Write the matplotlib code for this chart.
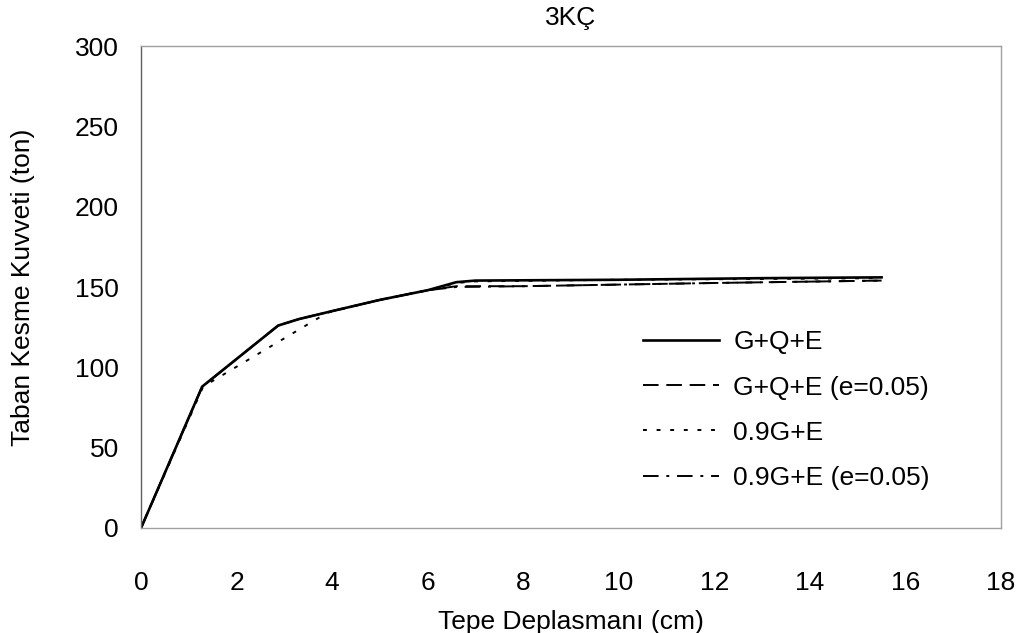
import numpy as np
import matplotlib.pyplot as plt

plt.rcParams['font.family'] = ['Liberation Sans', 'DejaVu Sans']

# tepe deplasmani (cm) / taban kesme kuvveti (ton)
x_gqe = [0, 1.28, 2.87, 3.3, 4.0, 5.0, 6.0, 6.6, 7.0, 10.0, 13.0, 15.5]
y_gqe = [0, 88, 126, 130, 135, 142, 148, 153, 154, 154.5, 155.5, 156]

x_gqe_e = [0, 1.28, 2.87, 3.3, 4.0, 5.0, 6.0, 6.6, 8.0, 10.0, 12.0, 15.5]
y_gqe_e = [0, 88, 126, 130, 135, 142, 148, 150.5, 150.5, 151.5, 152.5, 154]

x_09 = [0, 1.3, 3.9, 5.0, 6.0, 6.6, 7.0, 10.0, 13.0, 15.5]
y_09 = [0, 88, 134, 142, 148, 152.5, 153.5, 154.5, 155, 155.5]

x_09_e = [0, 1.28, 2.87, 3.3, 4.0, 5.0, 6.0, 6.6, 8.0, 10.0, 12.0, 15.5]
y_09_e = [0, 88, 126, 130, 135, 142, 148, 150, 150.5, 151.5, 152.5, 154]

labels = ['G+Q+E', 'G+Q+E (e=0.05)', '0.9G+E', '0.9G+E (e=0.05)']

fs = 19

fig = plt.figure(figsize=(10.25, 6.33), dpi=100)
ax = fig.add_axes([0.1376, 0.1659, 0.8390, 0.7614])

ax.plot(x_gqe, y_gqe, color='black', lw=1.9, label=labels[0])
ax.plot(x_gqe_e, y_gqe_e, color='black', lw=1.4, dashes=(8, 4), label=labels[1])
ax.plot(x_09, y_09, color='black', lw=1.4, dashes=(2, 5), label=labels[2])
ax.plot(x_09_e, y_09_e, color='black', lw=1.4, dashes=(8, 4, 1.5, 4), label=labels[3])

ax.set_xlim(0, 18)
ax.set_ylim(0, 300)
ax.set_xticks(np.arange(0, 19, 2))
ax.set_yticks(np.arange(0, 301, 50))
ax.tick_params(axis='both', length=0, labelsize=fs)
ax.tick_params(axis='x', pad=31)
ax.tick_params(axis='y', pad=16)

for s in ax.spines.values():
    s.set_color('#a0a0a0')
    s.set_linewidth(1.0)
ax.spines['left'].set_color('#606060')

ax.set_title('3KÇ', fontsize=fs, pad=15)
ax.set_xlabel('Tepe Deplasmanı (cm)', fontsize=fs, labelpad=11)
ax.set_ylabel('Taban Kesme Kuvveti (ton)', fontsize=fs, labelpad=29)

ax.legend(loc='upper left', bbox_to_anchor=(0.627, 0.478), bbox_transform=fig.transFigure,
          frameon=False, fontsize=fs, handlelength=2.9, handletextpad=0.53,
          labelspacing=0.8, borderpad=0, borderaxespad=0)

fig.savefig('out.png', dpi=100)
